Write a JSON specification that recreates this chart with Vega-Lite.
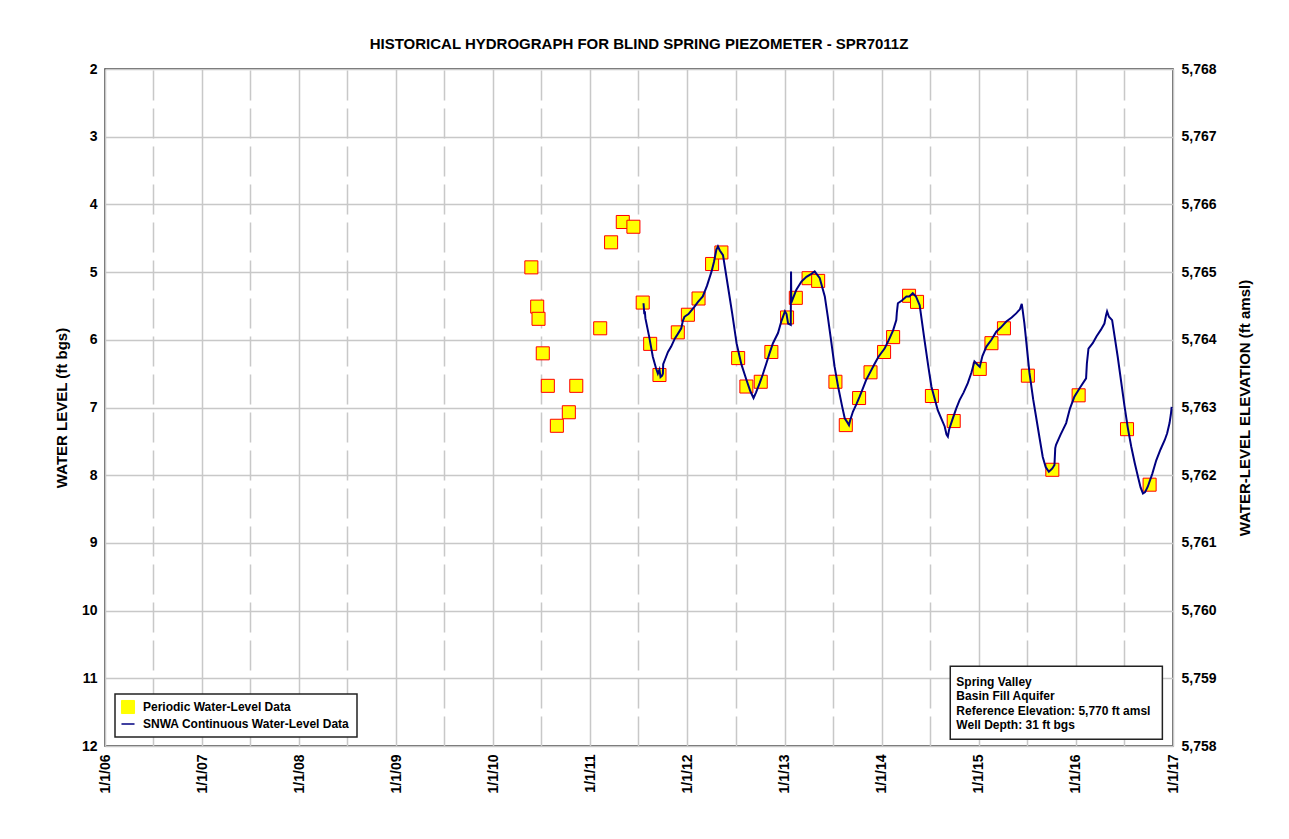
{
  "$schema": "https://vega.github.io/schema/vega-lite/v6.json",
  "width": 1068,
  "height": 677,
  "autosize": {"type": "none"},
  "padding": {"left": 105, "top": 69, "right": 116, "bottom": 93},
  "background": "white",
  "config": {"font": "Liberation Sans", "view": {"stroke": "#333333", "strokeWidth": 1.5}},
  "title": {"text": "HISTORICAL HYDROGRAPH FOR BLIND SPRING PIEZOMETER - SPR7011Z", "fontSize": 15, "fontWeight": "bold", "color": "#000000", "anchor": "middle", "offset": 10, "frame": "group"},
  "datasets": {
    "periodic": [
      {"date": "2010/05/24", "level": 4.93, "series": "Periodic Water-Level Data"},
      {"date": "2010/06/15", "level": 5.51, "series": "Periodic Water-Level Data"},
      {"date": "2010/06/20", "level": 5.69, "series": "Periodic Water-Level Data"},
      {"date": "2010/07/06", "level": 6.20, "series": "Periodic Water-Level Data"},
      {"date": "2010/07/25", "level": 6.68, "series": "Periodic Water-Level Data"},
      {"date": "2010/08/28", "level": 7.27, "series": "Periodic Water-Level Data"},
      {"date": "2010/10/12", "level": 7.07, "series": "Periodic Water-Level Data"},
      {"date": "2010/11/09", "level": 6.68, "series": "Periodic Water-Level Data"},
      {"date": "2011/02/07", "level": 5.83, "series": "Periodic Water-Level Data"},
      {"date": "2011/03/20", "level": 4.56, "series": "Periodic Water-Level Data"},
      {"date": "2011/05/03", "level": 4.26, "series": "Periodic Water-Level Data"},
      {"date": "2011/06/12", "level": 4.33, "series": "Periodic Water-Level Data"},
      {"date": "2011/07/17", "level": 5.45, "series": "Periodic Water-Level Data"},
      {"date": "2011/08/14", "level": 6.06, "series": "Periodic Water-Level Data"},
      {"date": "2011/09/18", "level": 6.52, "series": "Periodic Water-Level Data"},
      {"date": "2011/11/26", "level": 5.89, "series": "Periodic Water-Level Data"},
      {"date": "2012/01/03", "level": 5.63, "series": "Periodic Water-Level Data"},
      {"date": "2012/02/12", "level": 5.39, "series": "Periodic Water-Level Data"},
      {"date": "2012/04/03", "level": 4.88, "series": "Periodic Water-Level Data"},
      {"date": "2012/05/08", "level": 4.71, "series": "Periodic Water-Level Data"},
      {"date": "2012/07/10", "level": 6.27, "series": "Periodic Water-Level Data"},
      {"date": "2012/08/10", "level": 6.69, "series": "Periodic Water-Level Data"},
      {"date": "2012/10/03", "level": 6.62, "series": "Periodic Water-Level Data"},
      {"date": "2012/11/12", "level": 6.18, "series": "Periodic Water-Level Data"},
      {"date": "2013/01/10", "level": 5.67, "series": "Periodic Water-Level Data"},
      {"date": "2013/02/12", "level": 5.38, "series": "Periodic Water-Level Data"},
      {"date": "2013/04/01", "level": 5.09, "series": "Periodic Water-Level Data"},
      {"date": "2013/05/07", "level": 5.13, "series": "Periodic Water-Level Data"},
      {"date": "2013/07/11", "level": 6.62, "series": "Periodic Water-Level Data"},
      {"date": "2013/08/19", "level": 7.26, "series": "Periodic Water-Level Data"},
      {"date": "2013/10/08", "level": 6.86, "series": "Periodic Water-Level Data"},
      {"date": "2013/11/20", "level": 6.48, "series": "Periodic Water-Level Data"},
      {"date": "2014/01/10", "level": 6.18, "series": "Periodic Water-Level Data"},
      {"date": "2014/02/13", "level": 5.96, "series": "Periodic Water-Level Data"},
      {"date": "2014/04/14", "level": 5.35, "series": "Periodic Water-Level Data"},
      {"date": "2014/05/14", "level": 5.44, "series": "Periodic Water-Level Data"},
      {"date": "2014/07/09", "level": 6.83, "series": "Periodic Water-Level Data"},
      {"date": "2014/09/29", "level": 7.20, "series": "Periodic Water-Level Data"},
      {"date": "2015/01/05", "level": 6.43, "series": "Periodic Water-Level Data"},
      {"date": "2015/02/18", "level": 6.05, "series": "Periodic Water-Level Data"},
      {"date": "2015/04/06", "level": 5.83, "series": "Periodic Water-Level Data"},
      {"date": "2015/07/05", "level": 6.53, "series": "Periodic Water-Level Data"},
      {"date": "2015/10/05", "level": 7.92, "series": "Periodic Water-Level Data"},
      {"date": "2016/01/12", "level": 6.82, "series": "Periodic Water-Level Data"},
      {"date": "2016/07/12", "level": 7.32, "series": "Periodic Water-Level Data"},
      {"date": "2016/10/05", "level": 8.14, "series": "Periodic Water-Level Data"}
    ],
    "continuous": [
      {"date": "2011/07/20", "level": 5.46, "series": "SNWA Continuous Water-Level Data"},
      {"date": "2011/07/23", "level": 5.62, "series": "SNWA Continuous Water-Level Data"},
      {"date": "2011/07/25", "level": 5.58, "series": "SNWA Continuous Water-Level Data"},
      {"date": "2011/07/27", "level": 5.68, "series": "SNWA Continuous Water-Level Data"},
      {"date": "2011/08/10", "level": 5.95, "series": "SNWA Continuous Water-Level Data"},
      {"date": "2011/08/24", "level": 6.25, "series": "SNWA Continuous Water-Level Data"},
      {"date": "2011/09/05", "level": 6.42, "series": "SNWA Continuous Water-Level Data"},
      {"date": "2011/09/12", "level": 6.50, "series": "SNWA Continuous Water-Level Data"},
      {"date": "2011/09/18", "level": 6.44, "series": "SNWA Continuous Water-Level Data"},
      {"date": "2011/09/22", "level": 6.55, "series": "SNWA Continuous Water-Level Data"},
      {"date": "2011/09/28", "level": 6.53, "series": "SNWA Continuous Water-Level Data"},
      {"date": "2011/10/01", "level": 6.50, "series": "SNWA Continuous Water-Level Data"},
      {"date": "2011/10/02", "level": 6.36, "series": "SNWA Continuous Water-Level Data"},
      {"date": "2011/10/10", "level": 6.28, "series": "SNWA Continuous Water-Level Data"},
      {"date": "2011/10/20", "level": 6.18, "series": "SNWA Continuous Water-Level Data"},
      {"date": "2011/11/01", "level": 6.10, "series": "SNWA Continuous Water-Level Data"},
      {"date": "2011/11/15", "level": 5.98, "series": "SNWA Continuous Water-Level Data"},
      {"date": "2011/11/25", "level": 5.92, "series": "SNWA Continuous Water-Level Data"},
      {"date": "2011/12/09", "level": 5.83, "series": "SNWA Continuous Water-Level Data"},
      {"date": "2011/12/15", "level": 5.72, "series": "SNWA Continuous Water-Level Data"},
      {"date": "2011/12/21", "level": 5.66, "series": "SNWA Continuous Water-Level Data"},
      {"date": "2012/01/05", "level": 5.62, "series": "SNWA Continuous Water-Level Data"},
      {"date": "2012/01/28", "level": 5.51, "series": "SNWA Continuous Water-Level Data"},
      {"date": "2012/02/10", "level": 5.44, "series": "SNWA Continuous Water-Level Data"},
      {"date": "2012/02/28", "level": 5.36, "series": "SNWA Continuous Water-Level Data"},
      {"date": "2012/03/15", "level": 5.20, "series": "SNWA Continuous Water-Level Data"},
      {"date": "2012/04/01", "level": 4.99, "series": "SNWA Continuous Water-Level Data"},
      {"date": "2012/04/10", "level": 4.85, "series": "SNWA Continuous Water-Level Data"},
      {"date": "2012/04/19", "level": 4.67, "series": "SNWA Continuous Water-Level Data"},
      {"date": "2012/04/25", "level": 4.62, "series": "SNWA Continuous Water-Level Data"},
      {"date": "2012/05/02", "level": 4.68, "series": "SNWA Continuous Water-Level Data"},
      {"date": "2012/05/14", "level": 4.75, "series": "SNWA Continuous Water-Level Data"},
      {"date": "2012/06/02", "level": 5.22, "series": "SNWA Continuous Water-Level Data"},
      {"date": "2012/06/18", "level": 5.62, "series": "SNWA Continuous Water-Level Data"},
      {"date": "2012/07/04", "level": 6.05, "series": "SNWA Continuous Water-Level Data"},
      {"date": "2012/07/22", "level": 6.36, "series": "SNWA Continuous Water-Level Data"},
      {"date": "2012/08/10", "level": 6.59, "series": "SNWA Continuous Water-Level Data"},
      {"date": "2012/08/25", "level": 6.76, "series": "SNWA Continuous Water-Level Data"},
      {"date": "2012/09/06", "level": 6.86, "series": "SNWA Continuous Water-Level Data"},
      {"date": "2012/09/15", "level": 6.78, "series": "SNWA Continuous Water-Level Data"},
      {"date": "2012/09/29", "level": 6.64, "series": "SNWA Continuous Water-Level Data"},
      {"date": "2012/10/10", "level": 6.52, "series": "SNWA Continuous Water-Level Data"},
      {"date": "2012/10/24", "level": 6.35, "series": "SNWA Continuous Water-Level Data"},
      {"date": "2012/11/05", "level": 6.20, "series": "SNWA Continuous Water-Level Data"},
      {"date": "2012/11/18", "level": 6.05, "series": "SNWA Continuous Water-Level Data"},
      {"date": "2012/12/07", "level": 5.90, "series": "SNWA Continuous Water-Level Data"},
      {"date": "2012/12/20", "level": 5.72, "series": "SNWA Continuous Water-Level Data"},
      {"date": "2013/01/02", "level": 5.58, "series": "SNWA Continuous Water-Level Data"},
      {"date": "2013/01/08", "level": 5.62, "series": "SNWA Continuous Water-Level Data"},
      {"date": "2013/01/14", "level": 5.76, "series": "SNWA Continuous Water-Level Data"},
      {"date": "2013/01/24", "level": 5.78, "series": "SNWA Continuous Water-Level Data"},
      {"date": "2013/01/25", "level": 4.99, "series": "SNWA Continuous Water-Level Data"},
      {"date": "2013/01/26", "level": 5.45, "series": "SNWA Continuous Water-Level Data"},
      {"date": "2013/02/05", "level": 5.35, "series": "SNWA Continuous Water-Level Data"},
      {"date": "2013/02/14", "level": 5.26, "series": "SNWA Continuous Water-Level Data"},
      {"date": "2013/03/05", "level": 5.14, "series": "SNWA Continuous Water-Level Data"},
      {"date": "2013/03/24", "level": 5.07, "series": "SNWA Continuous Water-Level Data"},
      {"date": "2013/04/10", "level": 5.03, "series": "SNWA Continuous Water-Level Data"},
      {"date": "2013/04/24", "level": 4.99, "series": "SNWA Continuous Water-Level Data"},
      {"date": "2013/05/13", "level": 5.09, "series": "SNWA Continuous Water-Level Data"},
      {"date": "2013/06/01", "level": 5.36, "series": "SNWA Continuous Water-Level Data"},
      {"date": "2013/06/12", "level": 5.65, "series": "SNWA Continuous Water-Level Data"},
      {"date": "2013/06/26", "level": 6.05, "series": "SNWA Continuous Water-Level Data"},
      {"date": "2013/07/08", "level": 6.40, "series": "SNWA Continuous Water-Level Data"},
      {"date": "2013/07/21", "level": 6.69, "series": "SNWA Continuous Water-Level Data"},
      {"date": "2013/08/05", "level": 6.98, "series": "SNWA Continuous Water-Level Data"},
      {"date": "2013/08/15", "level": 7.16, "series": "SNWA Continuous Water-Level Data"},
      {"date": "2013/08/25", "level": 7.22, "series": "SNWA Continuous Water-Level Data"},
      {"date": "2013/08/31", "level": 7.26, "series": "SNWA Continuous Water-Level Data"},
      {"date": "2013/09/05", "level": 7.18, "series": "SNWA Continuous Water-Level Data"},
      {"date": "2013/09/15", "level": 7.06, "series": "SNWA Continuous Water-Level Data"},
      {"date": "2013/09/28", "level": 6.95, "series": "SNWA Continuous Water-Level Data"},
      {"date": "2013/10/10", "level": 6.84, "series": "SNWA Continuous Water-Level Data"},
      {"date": "2013/10/22", "level": 6.72, "series": "SNWA Continuous Water-Level Data"},
      {"date": "2013/11/04", "level": 6.59, "series": "SNWA Continuous Water-Level Data"},
      {"date": "2013/11/20", "level": 6.47, "series": "SNWA Continuous Water-Level Data"},
      {"date": "2013/12/06", "level": 6.35, "series": "SNWA Continuous Water-Level Data"},
      {"date": "2013/12/20", "level": 6.25, "series": "SNWA Continuous Water-Level Data"},
      {"date": "2014/01/12", "level": 6.13, "series": "SNWA Continuous Water-Level Data"},
      {"date": "2014/01/28", "level": 6.00, "series": "SNWA Continuous Water-Level Data"},
      {"date": "2014/02/13", "level": 5.86, "series": "SNWA Continuous Water-Level Data"},
      {"date": "2014/02/25", "level": 5.71, "series": "SNWA Continuous Water-Level Data"},
      {"date": "2014/02/27", "level": 5.60, "series": "SNWA Continuous Water-Level Data"},
      {"date": "2014/03/03", "level": 5.46, "series": "SNWA Continuous Water-Level Data"},
      {"date": "2014/03/18", "level": 5.42, "series": "SNWA Continuous Water-Level Data"},
      {"date": "2014/04/04", "level": 5.36, "series": "SNWA Continuous Water-Level Data"},
      {"date": "2014/04/15", "level": 5.36, "series": "SNWA Continuous Water-Level Data"},
      {"date": "2014/04/28", "level": 5.31, "series": "SNWA Continuous Water-Level Data"},
      {"date": "2014/05/10", "level": 5.36, "series": "SNWA Continuous Water-Level Data"},
      {"date": "2014/05/24", "level": 5.49, "series": "SNWA Continuous Water-Level Data"},
      {"date": "2014/06/11", "level": 6.00, "series": "SNWA Continuous Water-Level Data"},
      {"date": "2014/06/25", "level": 6.38, "series": "SNWA Continuous Water-Level Data"},
      {"date": "2014/07/07", "level": 6.69, "series": "SNWA Continuous Water-Level Data"},
      {"date": "2014/07/31", "level": 7.04, "series": "SNWA Continuous Water-Level Data"},
      {"date": "2014/08/15", "level": 7.18, "series": "SNWA Continuous Water-Level Data"},
      {"date": "2014/08/26", "level": 7.28, "series": "SNWA Continuous Water-Level Data"},
      {"date": "2014/09/02", "level": 7.40, "series": "SNWA Continuous Water-Level Data"},
      {"date": "2014/09/07", "level": 7.43, "series": "SNWA Continuous Water-Level Data"},
      {"date": "2014/09/12", "level": 7.32, "series": "SNWA Continuous Water-Level Data"},
      {"date": "2014/09/24", "level": 7.18, "series": "SNWA Continuous Water-Level Data"},
      {"date": "2014/10/08", "level": 7.02, "series": "SNWA Continuous Water-Level Data"},
      {"date": "2014/10/21", "level": 6.89, "series": "SNWA Continuous Water-Level Data"},
      {"date": "2014/11/05", "level": 6.78, "series": "SNWA Continuous Water-Level Data"},
      {"date": "2014/11/21", "level": 6.64, "series": "SNWA Continuous Water-Level Data"},
      {"date": "2014/12/05", "level": 6.48, "series": "SNWA Continuous Water-Level Data"},
      {"date": "2014/12/16", "level": 6.32, "series": "SNWA Continuous Water-Level Data"},
      {"date": "2015/01/05", "level": 6.40, "series": "SNWA Continuous Water-Level Data"},
      {"date": "2015/01/15", "level": 6.24, "series": "SNWA Continuous Water-Level Data"},
      {"date": "2015/01/30", "level": 6.10, "series": "SNWA Continuous Water-Level Data"},
      {"date": "2015/02/18", "level": 6.00, "series": "SNWA Continuous Water-Level Data"},
      {"date": "2015/03/08", "level": 5.88, "series": "SNWA Continuous Water-Level Data"},
      {"date": "2015/03/25", "level": 5.82, "series": "SNWA Continuous Water-Level Data"},
      {"date": "2015/04/15", "level": 5.73, "series": "SNWA Continuous Water-Level Data"},
      {"date": "2015/05/05", "level": 5.67, "series": "SNWA Continuous Water-Level Data"},
      {"date": "2015/05/22", "level": 5.61, "series": "SNWA Continuous Water-Level Data"},
      {"date": "2015/06/05", "level": 5.55, "series": "SNWA Continuous Water-Level Data"},
      {"date": "2015/06/12", "level": 5.47, "series": "SNWA Continuous Water-Level Data"},
      {"date": "2015/06/16", "level": 5.58, "series": "SNWA Continuous Water-Level Data"},
      {"date": "2015/06/22", "level": 5.76, "series": "SNWA Continuous Water-Level Data"},
      {"date": "2015/07/11", "level": 6.49, "series": "SNWA Continuous Water-Level Data"},
      {"date": "2015/07/25", "level": 6.88, "series": "SNWA Continuous Water-Level Data"},
      {"date": "2015/08/05", "level": 7.14, "series": "SNWA Continuous Water-Level Data"},
      {"date": "2015/08/18", "level": 7.45, "series": "SNWA Continuous Water-Level Data"},
      {"date": "2015/08/30", "level": 7.73, "series": "SNWA Continuous Water-Level Data"},
      {"date": "2015/09/10", "level": 7.88, "series": "SNWA Continuous Water-Level Data"},
      {"date": "2015/09/22", "level": 7.95, "series": "SNWA Continuous Water-Level Data"},
      {"date": "2015/10/05", "level": 7.90, "series": "SNWA Continuous Water-Level Data"},
      {"date": "2015/10/13", "level": 7.85, "series": "SNWA Continuous Water-Level Data"},
      {"date": "2015/10/16", "level": 7.60, "series": "SNWA Continuous Water-Level Data"},
      {"date": "2015/10/19", "level": 7.55, "series": "SNWA Continuous Water-Level Data"},
      {"date": "2015/11/05", "level": 7.40, "series": "SNWA Continuous Water-Level Data"},
      {"date": "2015/11/26", "level": 7.23, "series": "SNWA Continuous Water-Level Data"},
      {"date": "2015/12/10", "level": 7.02, "series": "SNWA Continuous Water-Level Data"},
      {"date": "2015/12/27", "level": 6.84, "series": "SNWA Continuous Water-Level Data"},
      {"date": "2016/01/15", "level": 6.72, "series": "SNWA Continuous Water-Level Data"},
      {"date": "2016/02/09", "level": 6.57, "series": "SNWA Continuous Water-Level Data"},
      {"date": "2016/02/12", "level": 6.35, "series": "SNWA Continuous Water-Level Data"},
      {"date": "2016/02/18", "level": 6.13, "series": "SNWA Continuous Water-Level Data"},
      {"date": "2016/03/05", "level": 6.05, "series": "SNWA Continuous Water-Level Data"},
      {"date": "2016/03/19", "level": 5.95, "series": "SNWA Continuous Water-Level Data"},
      {"date": "2016/04/05", "level": 5.85, "series": "SNWA Continuous Water-Level Data"},
      {"date": "2016/04/18", "level": 5.76, "series": "SNWA Continuous Water-Level Data"},
      {"date": "2016/04/24", "level": 5.64, "series": "SNWA Continuous Water-Level Data"},
      {"date": "2016/04/28", "level": 5.58, "series": "SNWA Continuous Water-Level Data"},
      {"date": "2016/05/05", "level": 5.66, "series": "SNWA Continuous Water-Level Data"},
      {"date": "2016/05/17", "level": 5.71, "series": "SNWA Continuous Water-Level Data"},
      {"date": "2016/06/07", "level": 6.25, "series": "SNWA Continuous Water-Level Data"},
      {"date": "2016/07/03", "level": 6.99, "series": "SNWA Continuous Water-Level Data"},
      {"date": "2016/07/15", "level": 7.30, "series": "SNWA Continuous Water-Level Data"},
      {"date": "2016/07/28", "level": 7.58, "series": "SNWA Continuous Water-Level Data"},
      {"date": "2016/08/10", "level": 7.82, "series": "SNWA Continuous Water-Level Data"},
      {"date": "2016/08/22", "level": 8.02, "series": "SNWA Continuous Water-Level Data"},
      {"date": "2016/09/01", "level": 8.18, "series": "SNWA Continuous Water-Level Data"},
      {"date": "2016/09/10", "level": 8.27, "series": "SNWA Continuous Water-Level Data"},
      {"date": "2016/09/18", "level": 8.25, "series": "SNWA Continuous Water-Level Data"},
      {"date": "2016/09/28", "level": 8.17, "series": "SNWA Continuous Water-Level Data"},
      {"date": "2016/10/15", "level": 7.98, "series": "SNWA Continuous Water-Level Data"},
      {"date": "2016/10/30", "level": 7.78, "series": "SNWA Continuous Water-Level Data"},
      {"date": "2016/11/15", "level": 7.62, "series": "SNWA Continuous Water-Level Data"},
      {"date": "2016/12/01", "level": 7.48, "series": "SNWA Continuous Water-Level Data"},
      {"date": "2016/12/10", "level": 7.38, "series": "SNWA Continuous Water-Level Data"},
      {"date": "2016/12/19", "level": 7.23, "series": "SNWA Continuous Water-Level Data"},
      {"date": "2016/12/24", "level": 7.10, "series": "SNWA Continuous Water-Level Data"},
      {"date": "2016/12/27", "level": 6.99, "series": "SNWA Continuous Water-Level Data"}
    ],
    "infobox": [
      {"date": "2014/09/16", "date2": "2016/11/22", "level": 10.823, "level2": 11.901}
    ],
    "info": [
      {"date": "2014/10/09", "level": 10.976, "info": "Spring Valley\nBasin Fill Aquifer\nReference Elevation: 5,770 ft amsl\nWell Depth: 31 ft bgs"}
    ]
  },
  "encoding": {
    "x": {
      "field": "date",
      "type": "temporal",
      "scale": {"domain": [{"year": 2006, "month": 1, "date": 1}, {"year": 2017, "month": 1, "date": 1}], "nice": false},
      "axis": {
        "title": null,
        "values": [
          {"year": 2006, "month": 1, "date": 1}, {"year": 2006, "month": 7, "date": 1},
          {"year": 2007, "month": 1, "date": 1}, {"year": 2007, "month": 7, "date": 1},
          {"year": 2008, "month": 1, "date": 1}, {"year": 2008, "month": 7, "date": 1},
          {"year": 2009, "month": 1, "date": 1}, {"year": 2009, "month": 7, "date": 1},
          {"year": 2010, "month": 1, "date": 1}, {"year": 2010, "month": 7, "date": 1},
          {"year": 2011, "month": 1, "date": 1}, {"year": 2011, "month": 7, "date": 1},
          {"year": 2012, "month": 1, "date": 1}, {"year": 2012, "month": 7, "date": 1},
          {"year": 2013, "month": 1, "date": 1}, {"year": 2013, "month": 7, "date": 1},
          {"year": 2014, "month": 1, "date": 1}, {"year": 2014, "month": 7, "date": 1},
          {"year": 2015, "month": 1, "date": 1}, {"year": 2015, "month": 7, "date": 1},
          {"year": 2016, "month": 1, "date": 1}, {"year": 2016, "month": 7, "date": 1},
          {"year": 2017, "month": 1, "date": 1}
        ],
        "labelExpr": "month(datum.value) === 0 ? timeFormat(datum.value, '%-m/%-d/%y') : ''",
        "labelAngle": 270,
        "labelFontSize": 14,
        "labelFontWeight": "bold",
        "labelColor": "#000000",
        "labelPadding": 8,
        "labelOverlap": false,
        "labelFlush": false,
        "labelBound": false,
        "ticks": false,
        "tickSize": 0,
        "domain": false,
        "grid": true,
        "gridColor": "#c8c8c8",
        "gridWidth": 1.5,
        "gridDash": {"condition": {"test": "month(datum.value) === 6", "value": [30, 8]}, "value": []}
      }
    }
  },
  "layer": [
    {
      "data": {"name": "periodic"},
      "mark": {"type": "point", "shape": "square", "filled": true, "size": 170, "stroke": "#FF0000", "strokeWidth": 1, "opacity": 1},
      "encoding": {
        "y": {
          "field": "level",
          "type": "quantitative",
          "scale": {"domain": [2, 12], "reverse": true, "nice": false, "zero": false},
          "axis": {
            "orient": "left",
            "title": "WATER LEVEL (ft bgs)",
            "values": [2, 3, 4, 5, 6, 7, 8, 9, 10, 11, 12],
            "labelFontSize": 14,
            "labelFontWeight": "bold",
            "labelColor": "#000000",
            "labelPadding": 8,
            "ticks": false,
            "tickSize": 0,
            "domain": false,
            "grid": true,
            "gridColor": "#c8c8c8",
            "gridWidth": 1.5,
            "titleFontSize": 15,
            "titleFontWeight": "bold",
            "titleColor": "#000000",
            "titlePadding": 12
          }
        },
        "color": {
          "field": "series",
          "type": "nominal",
          "scale": {"domain": ["Periodic Water-Level Data", "SNWA Continuous Water-Level Data"], "range": ["#FFFF00", "#000080"]},
          "legend": {
            "title": null,
            "orient": "none",
            "legendX": 10,
            "legendY": 625,
            "direction": "vertical",
            "fillColor": "#ffffff",
            "strokeColor": "#222222",
            "padding": 7,
            "rowPadding": 2,
            "labelFontSize": 12,
            "labelFontWeight": "bold",
            "labelColor": "#000000",
            "labelOffset": 9,
            "labelLimit": 400,
            "symbolSize": 170,
            "encode": {
              "symbols": {"update": {
                "shape": {"signal": "datum.value === 'SNWA Continuous Water-Level Data' ? 'stroke' : 'square'"},
                "fill": {"signal": "datum.value === 'SNWA Continuous Water-Level Data' ? 'transparent' : '#FFFF00'"},
                "stroke": {"signal": "datum.value === 'SNWA Continuous Water-Level Data' ? '#000080' : '#FF0000'"},
                "strokeWidth": {"signal": "datum.value === 'SNWA Continuous Water-Level Data' ? 1.5 : 1"},
                "opacity": {"value": 1}
              }},
              "legend": {"update": {"strokeWidth": {"value": 1.5}}}
            }
          }
        }
      }
    },
    {
      "data": {"name": "continuous"},
      "mark": {"type": "line", "strokeWidth": 2},
      "encoding": {
        "y": {
          "field": "level",
          "type": "quantitative",
          "scale": {"domain": [2, 12], "reverse": true, "nice": false, "zero": false},
          "axis": {
            "orient": "right",
            "title": "WATER-LEVEL ELEVATION (ft amsl)",
            "titleAngle": 270,
            "values": [2, 3, 4, 5, 6, 7, 8, 9, 10, 11, 12],
            "labelExpr": "format(5770 - datum.value, ',')",
            "labelFontSize": 14,
            "labelFontWeight": "bold",
            "labelColor": "#000000",
            "labelPadding": 8,
            "ticks": false,
            "tickSize": 0,
            "domain": false,
            "grid": false,
            "titleFontSize": 15,
            "titleFontWeight": "bold",
            "titleColor": "#000000",
            "titlePadding": 36
          }
        },
        "color": {
          "field": "series",
          "type": "nominal",
          "scale": {"domain": ["Periodic Water-Level Data", "SNWA Continuous Water-Level Data"], "range": ["#FFFF00", "#000080"]},
          "legend": {
            "title": null,
            "orient": "none",
            "legendX": 10,
            "legendY": 625,
            "direction": "vertical",
            "fillColor": "#ffffff",
            "strokeColor": "#222222",
            "padding": 7,
            "rowPadding": 2,
            "labelFontSize": 12,
            "labelFontWeight": "bold",
            "labelColor": "#000000",
            "labelOffset": 9,
            "labelLimit": 400,
            "symbolSize": 170,
            "encode": {
              "symbols": {"update": {
                "shape": {"signal": "datum.value === 'SNWA Continuous Water-Level Data' ? 'stroke' : 'square'"},
                "fill": {"signal": "datum.value === 'SNWA Continuous Water-Level Data' ? 'transparent' : '#FFFF00'"},
                "stroke": {"signal": "datum.value === 'SNWA Continuous Water-Level Data' ? '#000080' : '#FF0000'"},
                "strokeWidth": {"signal": "datum.value === 'SNWA Continuous Water-Level Data' ? 1.5 : 1"},
                "opacity": {"value": 1}
              }},
              "legend": {"update": {"strokeWidth": {"value": 1.5}}}
            }
          }
        }
      }
    },
    {
      "data": {"name": "infobox"},
      "mark": {"type": "rect", "fill": "#ffffff", "stroke": "#222222", "strokeWidth": 1.5},
      "encoding": {
        "x2": {"field": "date2"},
        "y": {"field": "level", "type": "quantitative", "scale": {"domain": [2, 12], "reverse": true, "nice": false, "zero": false}, "axis": null},
        "y2": {"field": "level2"}
      }
    },
    {
      "data": {"name": "info"},
      "mark": {"type": "text", "align": "left", "baseline": "top", "lineBreak": "\n", "lineHeight": 14.5, "fontSize": 12, "fontWeight": "bold", "color": "#000000"},
      "encoding": {
        "y": {"field": "level", "type": "quantitative", "scale": {"domain": [2, 12], "reverse": true, "nice": false, "zero": false}, "axis": null},
        "text": {"field": "info", "type": "nominal"}
      }
    }
  ],
  "resolve": {"scale": {"y": "independent"}}
}
